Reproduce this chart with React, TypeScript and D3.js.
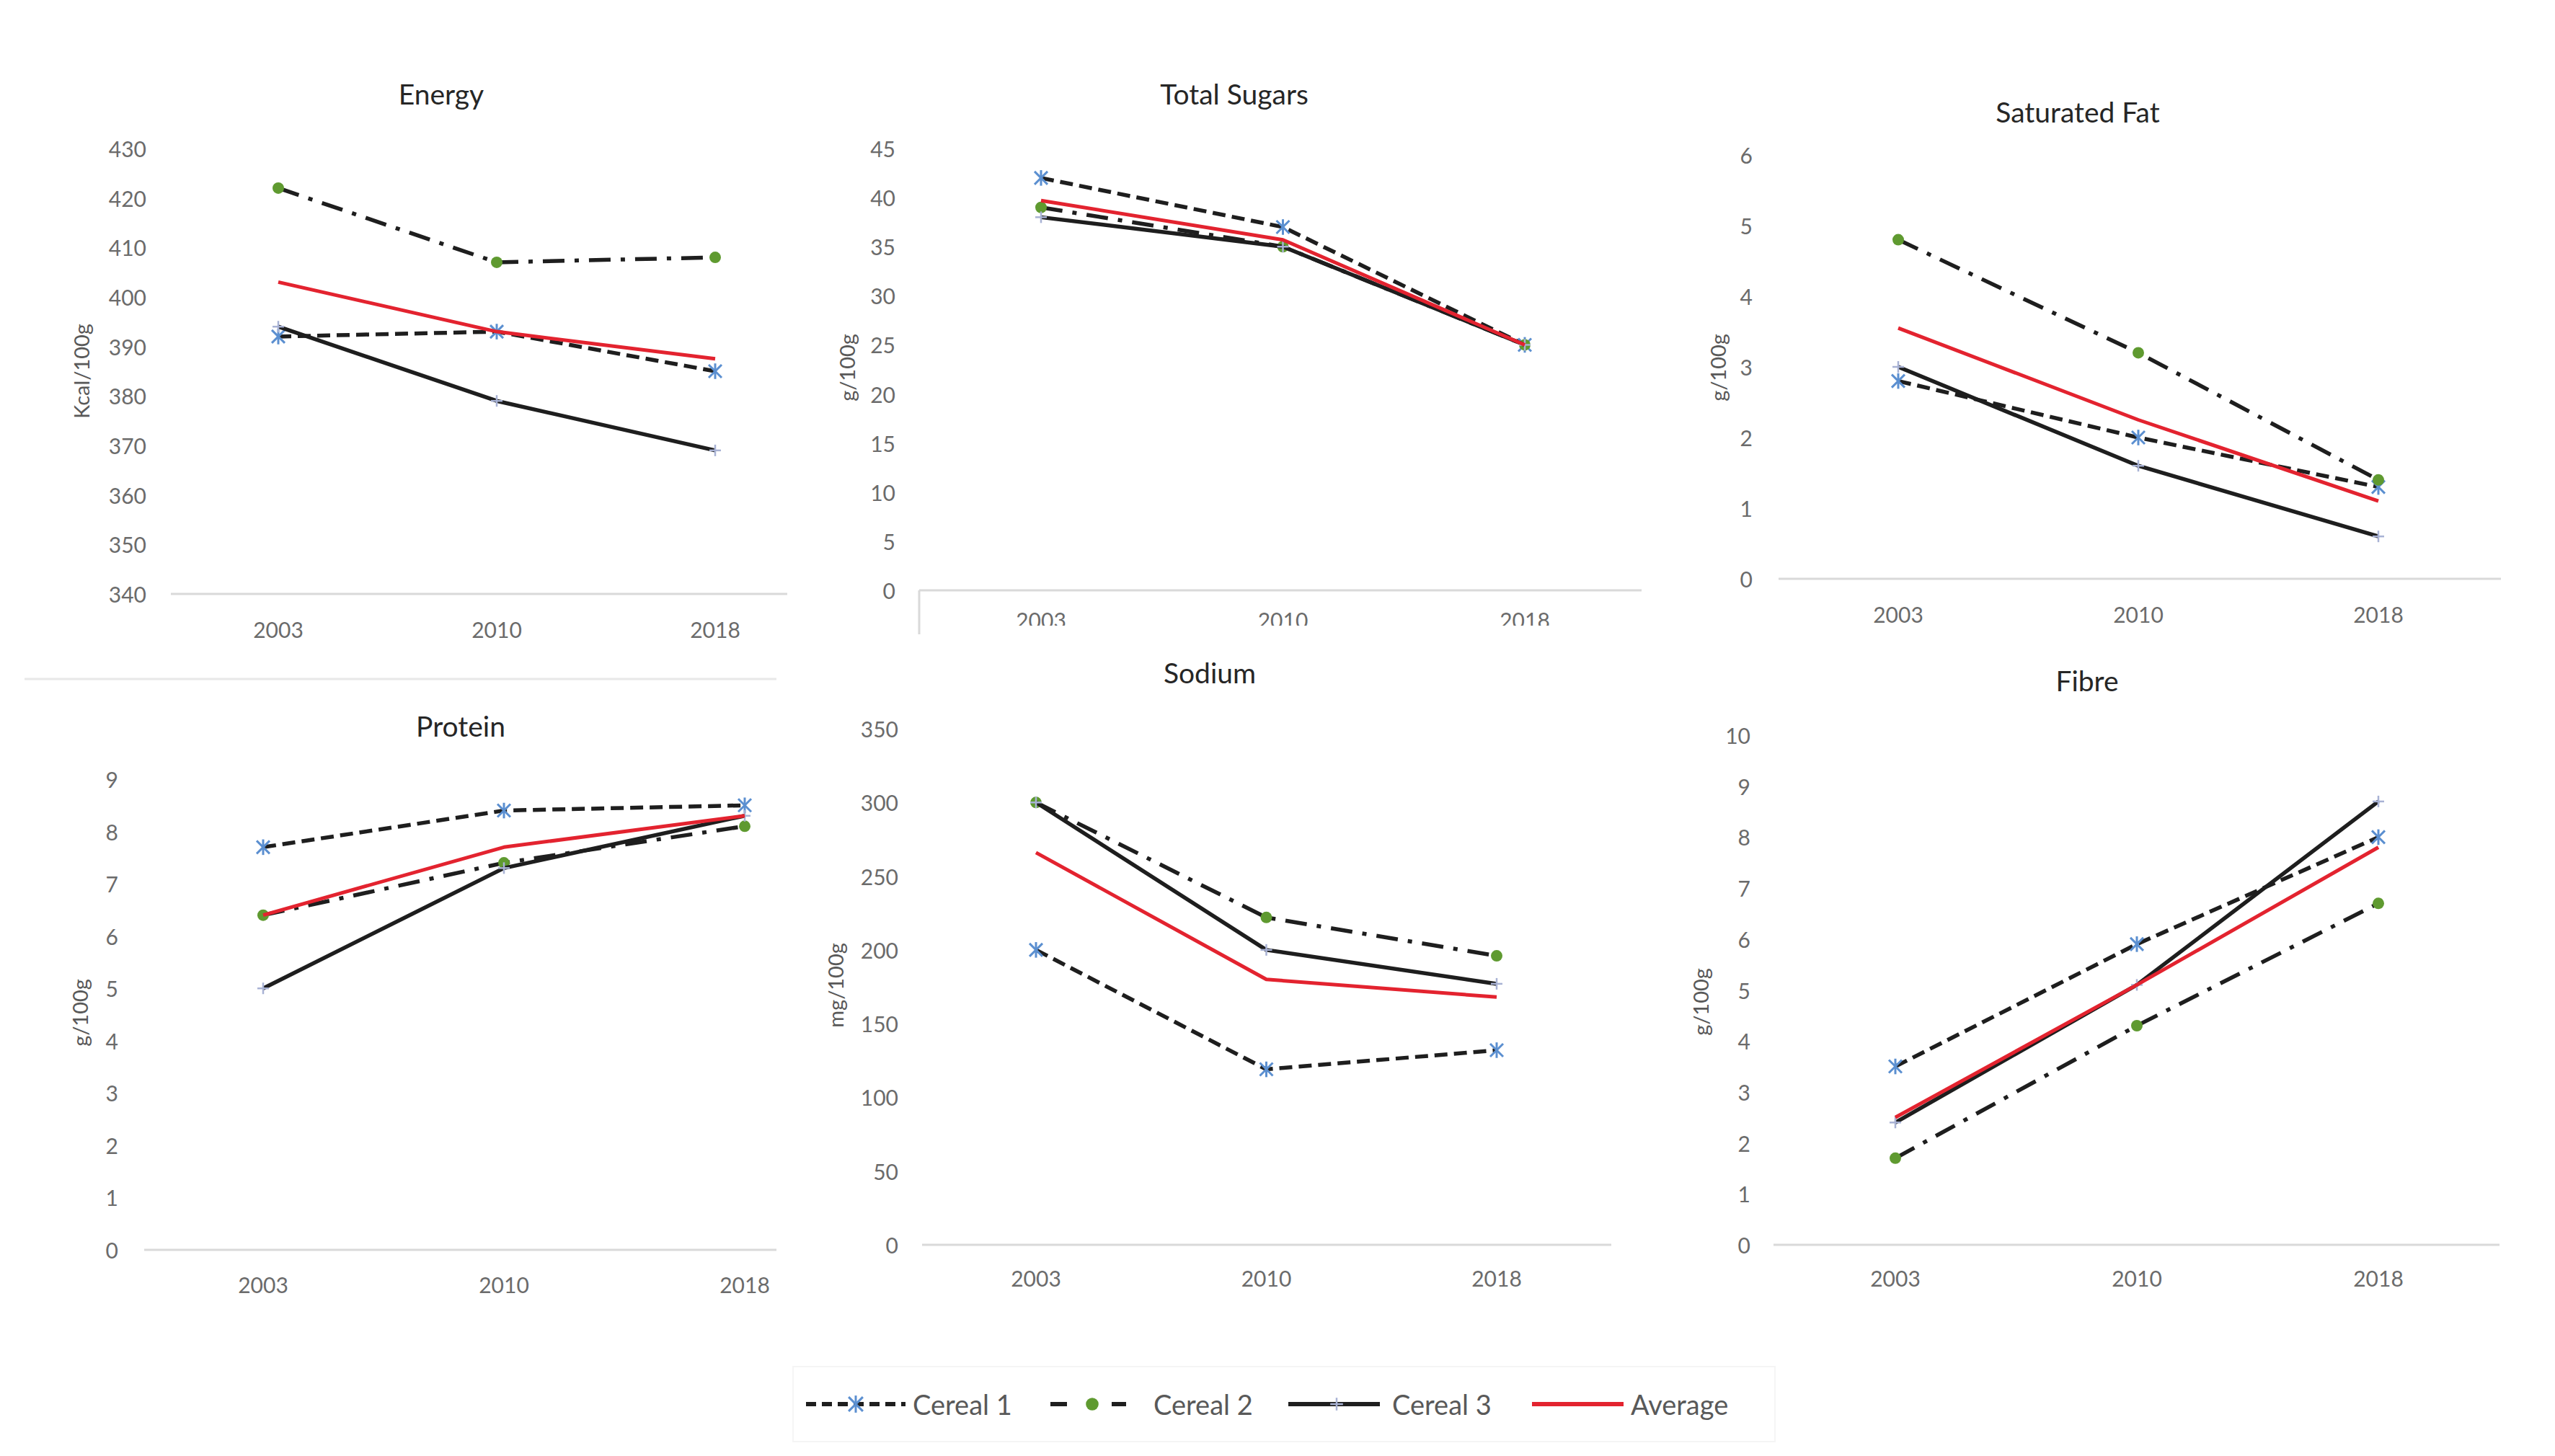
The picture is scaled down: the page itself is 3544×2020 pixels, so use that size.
import React from "react";
import * as d3 from "d3";

const years = ["2003", "2010", "2018"];
const seriesNames = ["Cereal 1", "Cereal 2", "Cereal 3", "Average"];

const energyCereal1 = [392, 393, 385];
const energyCereal2 = [422, 407, 408];
const energyCereal3 = [394, 379, 369];
const energyAverage = [403, 393, 387.5];
const energyTicks = [340, 350, 360, 370, 380, 390, 400, 410, 420, 430];

const sugarsCereal1 = [42, 37, 25];
const sugarsCereal2 = [39, 35, 25];
const sugarsCereal3 = [38, 35, 25];
const sugarsAverage = [39.7, 35.7, 25];
const sugarsTicks = [0, 5, 10, 15, 20, 25, 30, 35, 40, 45];

const satFatCereal1 = [2.8, 2.0, 1.3];
const satFatCereal2 = [4.8, 3.2, 1.4];
const satFatCereal3 = [3.0, 1.6, 0.6];
const satFatAverage = [3.55, 2.25, 1.1];
const satFatTicks = [0, 1, 2, 3, 4, 5, 6];

const proteinCereal1 = [7.7, 8.4, 8.5];
const proteinCereal2 = [6.4, 7.4, 8.1];
const proteinCereal3 = [5.0, 7.3, 8.3];
const proteinAverage = [6.4, 7.7, 8.3];
const proteinTicks = [0, 1, 2, 3, 4, 5, 6, 7, 8, 9];

const sodiumCereal1 = [200, 119, 132];
const sodiumCereal2 = [300, 222, 196];
const sodiumCereal3 = [300, 200, 177];
const sodiumAverage = [266, 180, 168];
const sodiumTicks = [0, 50, 100, 150, 200, 250, 300, 350];

const fibreCereal1 = [3.5, 5.9, 8.0];
const fibreCereal2 = [1.7, 4.3, 6.7];
const fibreCereal3 = [2.4, 5.1, 8.7];
const fibreAverage = [2.5, 5.1, 7.8];
const fibreTicks = [0, 1, 2, 3, 4, 5, 6, 7, 8, 9, 10];

const titles = ["Energy", "Total Sugars", "Saturated Fat", "Protein", "Sodium", "Fibre"];
const units = ["Kcal/100g", "g/100g", "g/100g", "g/100g", "mg/100g", "g/100g"];

const FONT = "Lato, 'Open Sans', sans-serif";
const LINE = "#1e1e1e";
const RED = "#e3232f";
const BLUE = "#5b8fd0";
const GREEN = "#5f9a30";
const PLUS = "#a8b2d4";

const seriesStyles = [
  { dash: "18 9", marker: "star" },
  { dash: "30 14 6 14", marker: "circle" },
  { dash: undefined, marker: "plus" },
  { dash: undefined, marker: "none" },
];

type Layout = {
  ax0: number; ax1: number; px0: number; px1: number;
  yTop: number; yBot: number; tickRight: number;
  titleX: number; titleY: number; unitX: number; unitY: number;
  labelY: number; clipY?: number;
};

const layouts: Layout[] = [
  { ax0: 237, ax1: 1092, px0: 386, px1: 992, yTop: 206, yBot: 824, tickRight: 203, titleX: 612, titleY: 130, unitX: 112, unitY: 515, labelY: 873 },
  { ax0: 1275, ax1: 2277, px0: 1444, px1: 2115, yTop: 206, yBot: 819, tickRight: 1242, titleX: 1712, titleY: 130, unitX: 1174, unitY: 510, labelY: 860, clipY: 868 },
  { ax0: 2467, ax1: 3469, px0: 2633, px1: 3299, yTop: 215, yBot: 803, tickRight: 2431, titleX: 2882, titleY: 155, unitX: 2382, unitY: 510, labelY: 852 },
  { ax0: 200, ax1: 1077, px0: 365, px1: 1033, yTop: 1081, yBot: 1734, tickRight: 164, titleX: 639, titleY: 1007, unitX: 110, unitY: 1405, labelY: 1782 },
  { ax0: 1279, ax1: 2235, px0: 1437, px1: 2076, yTop: 1011, yBot: 1727, tickRight: 1246, titleX: 1678, titleY: 933, unitX: 1158, unitY: 1367, labelY: 1773 },
  { ax0: 2460, ax1: 3467, px0: 2629, px1: 3299, yTop: 1020, yBot: 1727, tickRight: 2428, titleX: 2895, titleY: 944, unitX: 2358, unitY: 1390, labelY: 1773 },
];

const panelSeries = [
  [energyCereal1, energyCereal2, energyCereal3, energyAverage],
  [sugarsCereal1, sugarsCereal2, sugarsCereal3, sugarsAverage],
  [satFatCereal1, satFatCereal2, satFatCereal3, satFatAverage],
  [proteinCereal1, proteinCereal2, proteinCereal3, proteinAverage],
  [sodiumCereal1, sodiumCereal2, sodiumCereal3, sodiumAverage],
  [fibreCereal1, fibreCereal2, fibreCereal3, fibreAverage],
];
const panelTicks = [energyTicks, sugarsTicks, satFatTicks, proteinTicks, sodiumTicks, fibreTicks];

function Marker({ kind, x, y, s = 1 }: { kind: string; x: number; y: number; s?: number }) {
  if (kind === "star") {
    const r = 9 * s;
    return (
      <g stroke={BLUE} strokeWidth={3}>
        <line x1={x - r} y1={y - r} x2={x + r} y2={y + r} />
        <line x1={x - r} y1={y + r} x2={x + r} y2={y - r} />
        <line x1={x} y1={y - r * 1.2} x2={x} y2={y + r * 1.2} />
      </g>
    );
  }
  if (kind === "circle") {
    return <circle cx={x} cy={y} r={8 * s} fill={GREEN} />;
  }
  if (kind === "plus") {
    const r = 8 * s;
    return (
      <g stroke={PLUS} strokeWidth={2.5}>
        <line x1={x} y1={y - r} x2={x} y2={y + r} />
        <line x1={x - r} y1={y} x2={x + r} y2={y} />
      </g>
    );
  }
  return null;
}

function Panel({ idx }: { idx: number }) {
  const L = layouts[idx];
  const ticks = panelTicks[idx];
  const x = d3.scalePoint<string>().domain(years).range([L.px0, L.px1]);
  const y = d3.scaleLinear().domain([ticks[0], ticks[ticks.length - 1]]).range([L.yBot, L.yTop]);
  const line = d3
    .line<number>()
    .x((_, i) => x(years[i]) as number)
    .y((d) => y(d));
  const clipId = `clip-${idx}`;
  return (
    <g>
      {L.clipY !== undefined && (
        <defs>
          <clipPath id={clipId}>
            <rect x={L.ax0 - 50} y={L.yBot} width={L.ax1 - L.ax0 + 100} height={L.clipY - L.yBot} />
          </clipPath>
        </defs>
      )}
      <text x={L.titleX} y={L.titleY} textAnchor="middle" dominantBaseline="central" fontFamily={FONT} fontSize={39} fill="#262626">
        {titles[idx]}
      </text>
      <text
        transform={`translate(${L.unitX},${L.unitY}) rotate(-90)`}
        textAnchor="middle"
        dominantBaseline="central"
        fontFamily={FONT}
        fontSize={29}
        fill="#595959"
      >
        {units[idx]}
      </text>
      {ticks.map((t) => (
        <text key={t} x={L.tickRight} y={y(t)} textAnchor="end" dominantBaseline="central" fontFamily={FONT} fontSize={30} fill="#6b6b6b">
          {t}
        </text>
      ))}
      <line x1={L.ax0} x2={L.ax1} y1={L.yBot} y2={L.yBot} stroke="#d9d9d9" strokeWidth={3} />
      {L.clipY !== undefined && <line x1={L.ax0} x2={L.ax0} y1={L.yBot} y2={L.clipY + 12} stroke="#d9d9d9" strokeWidth={3} />}
      <g clipPath={L.clipY !== undefined ? `url(#${clipId})` : undefined}>
        {years.map((yr) => (
          <text key={yr} x={x(yr)} y={L.labelY} textAnchor="middle" dominantBaseline="central" fontFamily={FONT} fontSize={30} fill="#6b6b6b">
            {yr}
          </text>
        ))}
      </g>
      {panelSeries[idx].map((vals, si) => {
        const st = seriesStyles[si];
        return (
          <g key={si}>
            <path
              d={line(vals) || ""}
              fill="none"
              stroke={si === 3 ? RED : LINE}
              strokeWidth={si === 3 ? 5 : 5.5}
              strokeDasharray={st.dash}
              strokeLinejoin="round"
            />
            {vals.map((v, i) => (
              <Marker key={i} kind={st.marker} x={x(years[i]) as number} y={y(v)} />
            ))}
          </g>
        );
      })}
    </g>
  );
}

const legendLineX = [[1118, 1256], [1457, 1562], [1787, 1914], [2125, 2252]];
const legendDash = ["14 8", "23 62 20", undefined, undefined];
const legendMarkerX = [1187, 1515, 1854, 0];
const legendTextX = [1266, 1600, 1931, 2262];

export default function App() {
  const ly = 1948;
  return (
    <svg width={3544} height={2020} style={{ position: "absolute", left: 0, top: 0, background: "#fff" }}>
      <rect x={0} y={0} width={3544} height={2020} fill="#ffffff" />
      <line x1={34} x2={1077} y1={942} y2={942} stroke="#e8e8e8" strokeWidth={3} />
      {titles.map((_, i) => (
        <Panel key={i} idx={i} />
      ))}
      <rect x={1100} y={1896} width={1362} height={104} fill="none" stroke="#f5f5f5" strokeWidth={2} />
      {seriesNames.map((name, i) => {
        const st = seriesStyles[i];
        return (
          <g key={name}>
            <line
              x1={legendLineX[i][0]}
              x2={legendLineX[i][1]}
              y1={ly}
              y2={ly}
              stroke={i === 3 ? RED : LINE}
              strokeWidth={6}
              strokeDasharray={legendDash[i]}
            />
            {i < 3 && <Marker kind={st.marker} x={legendMarkerX[i]} y={ly} s={1.1} />}
            <text x={legendTextX[i]} y={ly} dominantBaseline="central" fontFamily={FONT} fontSize={38} fill="#595959">
              {name}
            </text>
          </g>
        );
      })}
    </svg>
  );
}
